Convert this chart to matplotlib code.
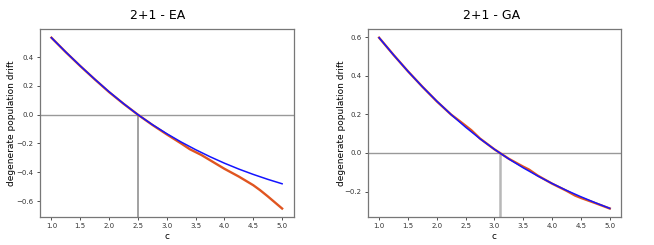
import matplotlib
matplotlib.use('Agg')
import matplotlib.pyplot as plt

# EA panel
c_ea_sim = [1.0, 1.25, 1.5, 1.75, 2.0, 2.25, 2.5, 2.75, 3.0, 3.25, 3.4, 3.6, 3.75,
            4.0, 4.25, 4.5, 4.62, 4.75, 5.0]
ea_sim = [0.535, 0.434, 0.338, 0.246, 0.157, 0.076, 0.0, -0.071, -0.137, -0.2,
          -0.24, -0.28, -0.316, -0.376, -0.43, -0.49, -0.525, -0.567, -0.652]
c_ea_th = [1.0, 1.25, 1.5, 1.75, 2.0, 2.25, 2.5, 2.75, 3.0, 3.25, 3.5, 3.75,
           4.0, 4.25, 4.5, 4.75, 5.0]
ea_th = [0.535, 0.435, 0.339, 0.247, 0.159, 0.077, 0.0, -0.069, -0.132, -0.19,
         -0.243, -0.292, -0.337, -0.378, -0.415, -0.449, -0.48]
ea_cross = 2.5

# GA panel
c_ga_sim = [1.0, 1.25, 1.5, 1.75, 2.0, 2.25, 2.4, 2.6, 2.75, 3.0, 3.25, 3.5, 3.6,
            3.75, 4.0, 4.25, 4.4, 4.5, 4.75, 5.0]
ga_sim = [0.598, 0.509, 0.424, 0.344, 0.268, 0.199, 0.165, 0.118, 0.075, 0.019,
          -0.03, -0.071, -0.086, -0.117, -0.159, -0.196, -0.221, -0.233, -0.26, -0.288]
c_ga_th = [1.0, 1.25, 1.5, 1.75, 2.0, 2.25, 2.5, 2.75, 3.0, 3.25, 3.5, 3.75,
           4.0, 4.25, 4.5, 4.75, 5.0]
ga_th = [0.598, 0.509, 0.424, 0.344, 0.269, 0.199, 0.134, 0.074, 0.019, -0.031,
         -0.077, -0.119, -0.158, -0.194, -0.227, -0.258, -0.287]
ga_cross = 3.1

xticks = [1.0, 1.5, 2.0, 2.5, 3.0, 3.5, 4.0, 4.5, 5.0]

fig = plt.figure(figsize=(6.54, 2.45), dpi=100)
ax1 = fig.add_axes([0.061, 0.114, 0.388, 0.767])
ax2 = fig.add_axes([0.562, 0.114, 0.388, 0.767])

panels = [(ax1, c_ea_sim, ea_sim, c_ea_th, ea_th, ea_cross, '2+1 - EA', 0.465,
           '#888888', 1.1, -0.094),
          (ax2, c_ga_sim, ga_sim, c_ga_th, ga_th, ga_cross, '2+1 - GA', 0.49,
           '#b8b8b8', 1.8, -0.085)]

for ax, cs, sim, ct, th, cross, title, tx, vcol, vlw, lx in panels:
    ax.plot(cs, sim, color='#e05520', lw=1.7)
    ax.plot(ct, th, color='#1414ff', lw=1.1)
    ylo, yhi = ax.get_ylim()
    ax.axhline(0, color='#999999', lw=1.0, zorder=0)
    ax.vlines(cross, ylo, 0, color=vcol, lw=vlw, zorder=0)
    ax.set_ylim(ylo, yhi)
    ax.set_xticks(xticks)
    ax.tick_params(labelsize=5, length=2.5, width=0.6, pad=2, colors='#333333')
    ax.set_xlabel('c', fontsize=6.5, labelpad=2)
    ax.set_ylabel('degenerate population drift', fontsize=6.5)
    ax.yaxis.set_label_coords(lx, 0.5)
    ax.set_title(title, fontsize=9, x=tx, pad=7)
    for s in ax.spines.values():
        s.set_color('#777777')
        s.set_linewidth(0.9)

fig.savefig('out.png', dpi=100)
